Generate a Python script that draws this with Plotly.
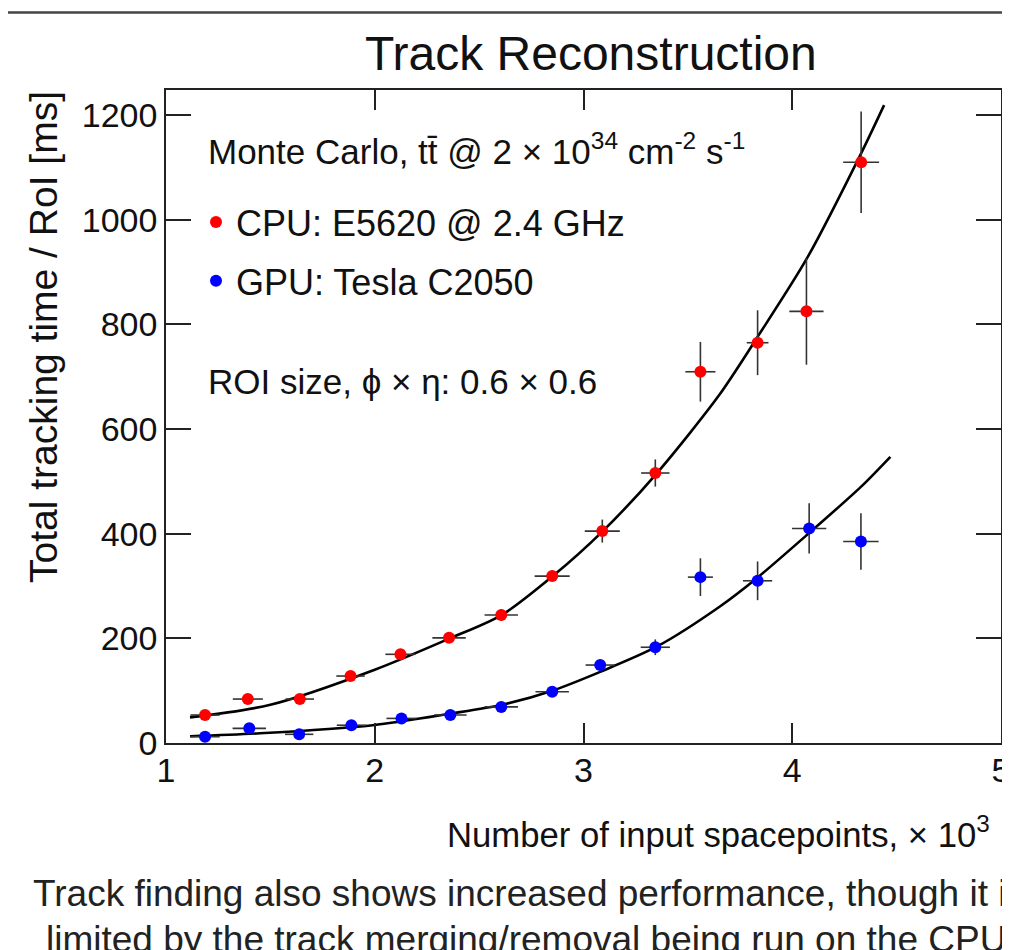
import plotly.graph_objects as go

# ---------------- data ----------------
cpu_x = [1.187, 1.392, 1.641, 1.884, 2.123, 2.356, 2.606, 2.850, 3.090, 3.344, 3.560, 3.834, 4.068, 4.330]
cpu_y = [53.5, 84, 84, 128, 169.5, 201, 244.6, 319, 405, 516, 709.5, 765, 825, 1110]
cpu_ex = [0.070, 0.072, 0.068, 0.068, 0.072, 0.080, 0.080, 0.084, 0.084, 0.068, 0.072, 0.052, 0.082, 0.086]
cpu_ey = [5, 7, 7, 8, 9, 10, 11, 9, 22, 26, 57, 62, 102, 97]

gpu_x = [1.187, 1.399, 1.638, 1.888, 2.128, 2.362, 2.606, 2.850, 3.080, 3.344, 3.560, 3.834, 4.081, 4.329]
gpu_y = [12, 28, 16.6, 34, 47, 53.5, 69, 98, 149, 183, 317, 310, 410, 385]
gpu_ex = [0.070, 0.080, 0.068, 0.070, 0.072, 0.078, 0.080, 0.080, 0.070, 0.070, 0.060, 0.070, 0.082, 0.085]
gpu_ey = [4, 5, 5, 6, 6, 7, 7, 8, 10, 15, 36, 37, 48, 54]

# fit curves, points
cpu_fit_x = [1.115, 1.50, 2.00, 2.36, 2.61, 2.85, 3.09, 3.35, 3.65, 3.84, 4.07, 4.33, 4.44]
cpu_fit_y = [49, 73, 140, 200, 245, 318, 404, 515, 665, 780, 926, 1127, 1219]
gpu_fit_x = [1.115, 1.45, 1.99, 2.36, 2.61, 2.85, 3.08, 3.35, 3.65, 3.83, 4.08, 4.33, 4.47]
gpu_fit_y = [13, 18.5, 34, 56, 73, 100, 136, 184, 260, 315, 401, 490, 547]

x_ticks = [1, 2, 3, 4, 5]
y_ticks = [0, 200, 400, 600, 800, 1000, 1200]

cpu_name = "CPU: E5620 @ 2.4 GHz"
gpu_name = "GPU: Tesla C2050"
title_text = "Track Reconstruction"
x_title = "Number of input spacepoints, \u00d7 10<sup>3</sup>"
y_title = "Total tracking time / RoI [ms]"
mc_text = "Monte Carlo, tt\u0304 @ 2 \u00d7 10<sup>34</sup> cm<sup>-2</sup> s<sup>-1</sup>"
roi_text = "ROI size, \u03d5 \u00d7 \u03b7: 0.6 \u00d7 0.6"
caption1 = "Track finding also shows increased performance, though it is"
caption2 = "limited by the track merging/removal being run on the CPU"

# ---------------- figure ----------------
FONT = "Liberation Sans, Arial, Helvetica, sans-serif"
OFF = 8  # the page places the figure 8 px in from the top-left corner
PAGE_W, PAGE_H = 1010, 950
W, H = PAGE_W - OFF, PAGE_H - OFF
# plot frame in figure pixels (page pixels minus offset)
L, R, T, B = 166 - OFF, 1001 - OFF, 90 - OFF, 743 - OFF


def px(xp):
    return (xp - OFF - L) / (R - L)


def py(yp):
    return (B - (yp - OFF)) / (B - T)


fig = go.Figure()

fig.add_trace(go.Scatter(x=cpu_fit_x, y=cpu_fit_y, mode="lines", line=dict(color="black", width=2.6, shape="spline", smoothing=0.8),
                         showlegend=False, hoverinfo="skip"))
fig.add_trace(go.Scatter(x=gpu_fit_x, y=gpu_fit_y, mode="lines", line=dict(color="black", width=2.6, shape="spline", smoothing=0.8),
                         showlegend=False, hoverinfo="skip"))

fig.add_trace(go.Scatter(
    x=cpu_x, y=cpu_y, mode="markers", name=cpu_name, legendgroup="cpu",
    marker=dict(color="#ff0000", size=12, line=dict(width=0)),
    error_x=dict(type="data", array=cpu_ex, color="#333333", thickness=1.6, width=0),
    error_y=dict(type="data", array=cpu_ey, color="#333333", thickness=1.6, width=0),
))
fig.add_trace(go.Scatter(
    x=gpu_x, y=gpu_y, mode="markers", name=gpu_name, legendgroup="gpu",
    marker=dict(color="#0000ff", size=12, line=dict(width=0)),
    error_x=dict(type="data", array=gpu_ex, color="#333333", thickness=1.6, width=0),
    error_y=dict(type="data", array=gpu_ey, color="#333333", thickness=1.6, width=0),
))

axis_common = dict(showgrid=False, zeroline=False, showline=True, linecolor="#222222", linewidth=1.6,
                   mirror="ticks", ticks="inside", tickcolor="#222222", tickwidth=1.6, automargin=False,
                   ticklabeloverflow="allow",
                   tickfont=dict(family=FONT, size=34, color="#111111"))

fig.update_xaxes(range=[1, 5], tickvals=x_ticks, ticktext=[str(v) for v in x_ticks], ticklen=20,
                 ticklabelstandoff=-4, **axis_common)
fig.update_yaxes(range=[0, 1248], tickvals=y_ticks, ticktext=[str(v) for v in y_ticks], ticklen=25, **axis_common)

annots = [
    dict(text=title_text, x=px(591), y=py(54), xanchor="center", yanchor="middle", font=dict(size=48)),
    dict(text=mc_text, x=px(206), y=py(149), xanchor="left", yanchor="middle", font=dict(size=35)),
    dict(text=roi_text, x=px(206), y=py(381), xanchor="left", yanchor="middle", font=dict(size=35)),
    dict(text=x_title, x=px(992), y=py(832), xanchor="right", yanchor="middle", font=dict(size=34.7)),
    dict(text=y_title, x=px(43), y=py(89), xanchor="center", yanchor="top", textangle=-90, font=dict(size=39)),
    dict(text=caption1, x=px(31), y=py(893), xanchor="left", yanchor="middle", font=dict(size=37, color="#222222")),
    dict(text=caption2, x=px(44), y=py(939), xanchor="left", yanchor="middle", font=dict(size=37, color="#222222")),
]
for a in annots:
    a.setdefault("font", {})
    a["font"].setdefault("family", FONT)
    a["font"].setdefault("color", "#111111")
    fig.add_annotation(xref="paper", yref="paper", showarrow=False, **a)

fig.add_shape(type="line", xref="paper", yref="paper", x0=px(0), x1=px(PAGE_W), y0=py(12.5), y1=py(12.5),
              line=dict(color="#444444", width=2.5))

fig.update_layout(
    width=W, height=H,
    margin=dict(l=L, r=W - R, t=T, b=H - B, pad=0, autoexpand=False),
    paper_bgcolor="white", plot_bgcolor="white",
    showlegend=True,
    legend=dict(x=px(196), y=py(192), xanchor="left", yanchor="top", bgcolor="rgba(0,0,0,0)",
                font=dict(family=FONT, size=36, color="#111111"), tracegroupgap=9, traceorder="grouped",
                itemsizing="constant"),
    font=dict(family=FONT),
)

fig.write_html("out.html")
